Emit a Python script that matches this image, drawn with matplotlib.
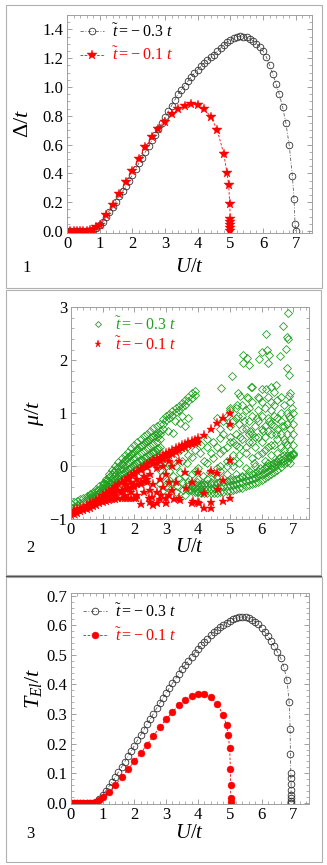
import matplotlib
matplotlib.use("Agg")
import matplotlib.pyplot as plt
from matplotlib.patches import Rectangle
from matplotlib.lines import Line2D
from matplotlib.ticker import MultipleLocator, FormatStrFormatter

plt.rcParams['font.family'] = ['Liberation Serif', 'DejaVu Serif']
plt.rcParams['mathtext.fontset'] = 'custom'
plt.rcParams['mathtext.rm'] = 'Liberation Serif'
plt.rcParams['mathtext.it'] = 'Liberation Serif:italic'
plt.rcParams['mathtext.bf'] = 'Liberation Serif:bold'

# ---------------- panel 1 : gap ----------------
d_black_U = [0.0, 0.1, 0.2, 0.3, 0.4, 0.5, 0.6, 0.7, 0.8, 0.9,
             1.0, 1.1, 1.2, 1.3, 1.4, 1.5, 1.6, 1.7, 1.8, 1.9,
             2.0, 2.1, 2.2, 2.3, 2.4, 2.5, 2.6, 2.7, 2.8, 2.9,
             3.0, 3.1, 3.2, 3.3, 3.4, 3.5, 3.6, 3.7, 3.8, 3.9,
             4.0, 4.1, 4.2, 4.3, 4.4, 4.5, 4.6, 4.7, 4.8, 4.9,
             5.0, 5.1, 5.2, 5.3, 5.4, 5.5, 5.6, 5.7, 5.8, 5.9,
             6.0, 6.1, 6.2, 6.3, 6.4, 6.5, 6.6, 6.7, 6.8, 6.9,
             6.95, 6.98, 7.0]
d_black = [0.0, 0.0, 0.0, 0.0, 0.0, 0.0, 0.001, 0.003, 0.008, 0.02,
           0.04, 0.065, 0.095, 0.13, 0.165, 0.2, 0.24, 0.275, 0.31, 0.35,
           0.39, 0.43, 0.47, 0.51, 0.55, 0.59, 0.63, 0.67, 0.71, 0.75,
           0.79, 0.83, 0.87, 0.91, 0.95, 0.98, 1.01, 1.04, 1.07, 1.095,
           1.12, 1.145, 1.165, 1.185, 1.205, 1.225, 1.25, 1.27, 1.29, 1.31,
           1.325, 1.34, 1.35, 1.352, 1.35, 1.345, 1.335, 1.32, 1.30, 1.28,
           1.25, 1.21, 1.15, 1.09, 1.02, 0.95, 0.86, 0.75, 0.60, 0.38,
           0.22, 0.05, 0.0]

d_red_U = [0.0, 0.1, 0.2, 0.3, 0.4, 0.5, 0.6, 0.7, 0.8, 0.9,
           1.0, 1.2, 1.4, 1.6, 1.8, 2.0, 2.2, 2.4, 2.6, 2.8,
           3.0, 3.2, 3.4, 3.6, 3.8, 4.0, 4.2, 4.4, 4.6, 4.8,
           4.9, 4.95, 4.98, 5.0, 5.0, 5.0, 5.0, 5.0]
d_red = [0.0, 0.0, 0.0, 0.0, 0.0, 0.0, 0.002, 0.005, 0.01, 0.025,
         0.045, 0.11, 0.18, 0.26, 0.34, 0.42, 0.50, 0.58, 0.65, 0.71,
         0.76, 0.81, 0.845, 0.87, 0.885, 0.875, 0.845, 0.795, 0.70, 0.535,
         0.40, 0.32, 0.19, 0.08, 0.06, 0.04, 0.02, 0.0]

# ---------------- panel 2 : chemical potential ----------------
# t~ = -0.3 t  (green diamonds)
g_fan_U = [0.0, 0.1, 0.2, 0.3, 0.4, 0.5, 0.6, 0.7, 0.8, 0.9,
           1.0, 1.1, 1.2, 1.3, 1.4, 1.5, 1.6, 1.7, 1.8, 1.9,
           2.0, 2.1, 2.2, 2.3, 2.4, 2.5, 2.6, 2.7, 2.8]
g_fan_lo = [-0.80, -0.77, -0.74, -0.71, -0.68, -0.65, -0.62, -0.59, -0.56, -0.52,
            -0.49, -0.45, -0.41, -0.37, -0.33, -0.29, -0.25, -0.21, -0.17, -0.13,
            -0.09, -0.06, -0.03, 0.0, 0.04, 0.08, 0.12, 0.16, 0.20]
g_fan_hi = [-0.72, -0.69, -0.66, -0.63, -0.60, -0.57, -0.53, -0.49, -0.44, -0.39,
            -0.32, -0.24, -0.16, -0.08, 0.0, 0.07, 0.14, 0.21, 0.27, 0.33,
            0.39, 0.45, 0.51, 0.56, 0.61, 0.66, 0.71, 0.76, 0.80]
g_in_U = [1.0, 1.1, 1.2, 1.3, 1.4, 1.5, 1.6, 1.7, 1.8, 1.9,
          2.0, 2.1, 2.2, 2.3, 2.4, 2.5, 2.6, 2.7, 2.8]
g_in_1 = [-0.45, -0.40, -0.35, -0.30, -0.25, -0.20, -0.15, -0.11, -0.06, -0.02,
          0.03, 0.07, 0.11, 0.14, 0.18, 0.23, 0.27, 0.31, 0.35]
g_in_2 = [-0.41, -0.35, -0.29, -0.23, -0.17, -0.11, -0.06, 0.0, 0.05, 0.10,
          0.15, 0.20, 0.24, 0.28, 0.33, 0.37, 0.42, 0.46, 0.50]
g_in_3 = [-0.36, -0.29, -0.22, -0.15, -0.08, -0.02, 0.04, 0.11, 0.16, 0.22,
          0.27, 0.32, 0.38, 0.42, 0.47, 0.52, 0.56, 0.61, 0.65]
g_off_U = [0.55, 0.65, 0.75, 0.85, 0.95,
           1.05, 1.15, 1.25, 1.35, 1.45, 1.55, 1.65, 1.75, 1.85, 1.95,
           2.05, 2.15, 2.25, 2.35, 2.45, 2.55, 2.65, 2.75]
g_off_1 = [-0.62, -0.59, -0.56, -0.53, -0.49,
           -0.425, -0.375, -0.325, -0.275, -0.225, -0.18, -0.13, -0.08, -0.04, 0.01,
           0.05, 0.09, 0.12, 0.16, 0.205, 0.25, 0.29, 0.33]
g_off_2 = [-0.58, -0.54, -0.50, -0.46, -0.41,
           -0.33, -0.26, -0.19, -0.12, -0.05, 0.01, 0.07, 0.13, 0.19, 0.24,
           0.30, 0.35, 0.40, 0.445, 0.49, 0.54, 0.59, 0.63]

g_streak_U = [2.9, 3.0, 3.1, 3.2, 3.3, 3.4, 3.5, 3.6, 3.7, 3.8, 3.9]
g_streak_1 = [0.88, 0.94, 0.99, 1.04, 1.09, 1.14, 1.19, 1.25, 1.31, 1.37, 1.42]
g_streak_2 = [0.80, 0.86, 0.91, 0.96, 1.01, 1.06, 1.11, 1.16, 1.22, 1.28, 1.34]

g_band_U = [3.7, 3.8, 3.9, 4.0, 4.1, 4.2, 4.3, 4.4, 4.5, 4.6,
            4.7, 4.8, 4.9, 5.0, 5.1, 5.2, 5.3, 5.4, 5.5, 5.6,
            5.7, 5.8, 5.9, 6.0, 6.1, 6.2, 6.3, 6.4, 6.5, 6.6,
            6.7, 6.8, 6.9, 7.0]
g_band_lo = [-0.45, -0.47, -0.49, -0.50, -0.51, -0.52, -0.52, -0.52, -0.52, -0.51,
             -0.50, -0.49, -0.48, -0.47, -0.46, -0.44, -0.42, -0.41, -0.39, -0.37,
             -0.35, -0.33, -0.30, -0.27, -0.23, -0.19, -0.15, -0.11, -0.07, -0.02,
             0.03, 0.08, 0.14, 0.20]
g_band_mid = [-0.38, -0.40, -0.42, -0.43, -0.43, -0.44, -0.43, -0.43, -0.42, -0.41,
              -0.40, -0.39, -0.38, -0.37, -0.36, -0.34, -0.32, -0.31, -0.29, -0.27,
              -0.25, -0.23, -0.20, -0.17, -0.14, -0.10, -0.06, -0.02, 0.02, 0.06,
              0.10, 0.14, 0.18, 0.23]
g_band_hi = [-0.30, -0.33, -0.35, -0.36, -0.36, -0.36, -0.35, -0.34, -0.33, -0.32,
             -0.31, -0.30, -0.29, -0.28, -0.27, -0.25, -0.23, -0.21, -0.19, -0.17,
             -0.15, -0.13, -0.10, -0.07, -0.04, -0.01, 0.02, 0.05, 0.08, 0.11,
             0.15, 0.18, 0.21, 0.25]

g_cloud_U = [2.7, 2.8, 2.9, 3.07, 3.23, 3.44, 3.28, 3.6, 3.5, 3.7,
             3.07, 3.23, 3.44, 3.65, 3.8, 4.07, 4.28, 4.48, 4.7, 3.12,
             3.33, 3.54, 3.75, 3.96, 3.96, 4.17, 4.38, 4.59, 4.28, 4.48,
             4.7, 4.9, 5.11, 5.32, 3.65, 3.86, 3.44, 3.23, 3.02, 2.81,
             2.91, 4.6, 4.8, 5.0, 5.0, 5.2, 5.2, 5.3, 5.4, 5.4,
             5.5, 5.6, 5.6, 5.7, 5.7, 5.8, 5.9, 5.9, 6.0, 6.0,
             6.1, 6.1, 6.2, 6.2, 6.3, 6.3, 6.4, 6.4, 6.5, 6.5,
             6.6, 6.6, 6.7, 6.7, 6.8, 6.8, 6.9, 6.9, 7.0, 7.0,
             6.95, 4.8, 4.9, 5.0, 5.1, 5.2, 5.3, 5.3, 5.4, 5.5,
             5.5, 5.6, 5.7, 5.7, 5.8, 5.8, 5.9, 6.0, 6.0, 6.1,
             6.1, 6.2, 6.3, 6.3, 6.4, 6.5, 6.5, 6.6, 6.7, 6.7,
             6.8, 6.9, 6.9, 7.0, 4.6, 4.7, 4.9, 5.0, 5.1, 5.2,
             5.4, 5.6, 5.9, 6.2, 4.4, 4.2, 4.0, 3.9, 3.8, 3.5,
             3.3, 3.6, 2.9, 2.8,
             3.1, 3.3, 3.5, 3.7, 3.9, 4.1, 4.3, 3.2, 3.4, 3.6,
             3.8, 4.0, 4.2, 4.4, 4.6, 4.1, 4.3, 4.5, 4.7, 4.9,
             5.1, 5.3, 5.5, 5.7, 5.9, 6.1, 6.3, 6.5, 6.7, 6.9,
             4.8, 5.0, 5.2, 5.4, 5.6, 5.8, 6.0, 6.2, 6.4, 6.6,
             6.8, 7.0, 6.9, 6.5, 6.3, 5.9, 5.5, 5.1, 4.9, 4.7,
             5.25, 5.45, 5.65, 5.85, 6.05, 6.25, 6.45, 6.65, 6.85, 6.75,
             6.55, 6.35, 6.15, 5.95, 5.75]
g_cloud_mu = [0.55, 0.60, 0.70, 0.65, 0.62, 0.81, 0.84, 0.75, 0.95, 0.90,
              -0.30, -0.20, -0.11, 0.05, 0.17, 0.24, 0.36, 0.46, 0.52, -0.46,
              -0.39, -0.46, -0.46, -0.49, -0.30, -0.20, -0.11, -0.05, 0.05, 0.14,
              0.24, 0.36, 0.46, 0.55, 0.36, 0.46, 0.30, 0.14, 0.05, -0.08,
              -0.20, 0.90, 0.85, 0.75, 1.05, 1.10, 0.90, 0.80, 1.15, 0.95,
              0.70, 1.10, 0.85, 1.20, 0.95, 0.75, 1.05, 0.85, 1.20, 0.95,
              1.10, 0.75, 0.90, 1.30, 1.05, 0.80, 1.15, 0.95, 0.70, 1.25,
              1.00, 0.85, 1.15, 0.75, 1.00, 0.60, 0.90, 0.70, 0.60, 0.80,
              1.10, 0.30, 0.10, 0.45, 0.20, 0.60, 0.35, 0.05, 0.50, 0.25,
              -0.05, 0.45, 0.15, 0.60, 0.35, 0.00, 0.55, 0.25, 0.45, 0.10,
              0.55, 0.35, 0.20, 0.60, 0.40, 0.25, 0.50, 0.35, 0.50, 0.30,
              0.40, 0.50, 0.30, 0.40, -0.20, 0.00, -0.15, -0.25, 0.00, -0.15,
              -0.20, -0.10, -0.15, 0.05, -0.30, -0.35, -0.25, -0.10, -0.38, -0.30,
              -0.50, -0.55, -0.45, -0.35,
              -0.10, 0.00, 0.10, 0.20, 0.30, 0.40, 0.50, -0.35, -0.25, -0.20,
              -0.15, -0.05, 0.10, 0.25, 0.35, -0.35, -0.25, -0.15, -0.10, 0.00,
              0.10, 0.20, 0.35, 0.45, 0.20, 0.30, 0.40, 0.10, 0.20, 0.05,
              0.60, 0.55, 0.40, 0.70, 0.60, 0.55, 0.70, 0.65, 0.75, 0.60,
              0.80, 1.00, 1.20, 0.90, 1.20, 1.30, 1.05, 0.85, 0.95, 0.70,
              0.95, 0.85, 0.65, 0.90, 0.65, 0.85, 0.60, 0.75, 0.95, 0.45,
              0.15, 0.05, 0.00, -0.05, 0.05]

g_top_U = [6.84, 6.69, 6.79, 6.82, 6.14, 6.77, 6.0, 6.18, 6.25, 5.43,
           5.54, 5.41, 5.62, 5.93, 6.21, 6.58, 6.79, 6.87, 5.06, 4.72,
           5.66, 6.14, 6.29, 6.46, 6.9, 6.88, 5.32, 5.58, 5.93, 6.4,
           6.6, 5.0, 5.22, 5.53, 5.27, 5.69, 6.0]
g_top_mu = [2.89, 2.65, 2.44, 2.40, 2.50, 2.21, 2.16, 2.19, 2.10, 2.10,
            2.04, 1.94, 1.91, 2.02, 1.95, 2.07, 1.85, 1.72, 1.70, 1.47,
            1.49, 1.45, 1.49, 1.53, 1.38, 1.33, 1.32, 1.28, 1.28, 1.40,
            1.30, 1.09, 1.15, 1.31, 1.37, 1.50, 1.45]

# t~ = -0.1 t  (red stars)
r_lo_U = [0.0, 0.1, 0.2, 0.3, 0.4, 0.5, 0.6, 0.7, 0.8, 0.9,
          1.0, 1.1, 1.2, 1.3, 1.4, 1.5, 1.6, 1.7, 1.8, 1.9, 2.0]
r_lo = [-0.93, -0.91, -0.89, -0.86, -0.84, -0.81, -0.79, -0.76, -0.74, -0.71,
        -0.69, -0.67, -0.65, -0.63, -0.62, -0.61, -0.61, -0.61, -0.61, -0.61, -0.61]
r_mid_U = [0.8, 0.9, 1.0, 1.1, 1.2, 1.3, 1.4, 1.5, 1.6, 1.7,
           1.8, 1.9, 2.0, 2.1, 2.2, 2.3, 2.4]
r_mid = [-0.69, -0.65, -0.62, -0.59, -0.56, -0.53, -0.50, -0.48, -0.46, -0.44,
         -0.42, -0.40, -0.37, -0.34, -0.31, -0.28, -0.25]
r_up_U = [0.0, 0.1, 0.2, 0.3, 0.4, 0.5, 0.6, 0.7, 0.8, 0.9,
          1.0, 1.1, 1.2, 1.3, 1.4, 1.5, 1.6, 1.7, 1.8, 1.9,
          2.0, 2.1, 2.2, 2.3, 2.4, 2.5, 2.6, 2.7, 2.8, 2.9,
          3.0, 3.1, 3.2, 3.3, 3.4, 3.5, 3.6, 3.7, 3.8, 3.9,
          4.0, 4.2, 4.4, 4.6, 4.8, 5.0]
r_up = [-0.86, -0.84, -0.82, -0.79, -0.77, -0.74, -0.71, -0.68, -0.64, -0.60,
        -0.56, -0.52, -0.48, -0.44, -0.39, -0.35, -0.31, -0.26, -0.22, -0.17,
        -0.13, -0.09, -0.05, -0.01, 0.03, 0.08, 0.11, 0.14, 0.17, 0.21,
        0.24, 0.27, 0.30, 0.33, 0.36, 0.39, 0.42, 0.45, 0.47, 0.49,
        0.52, 0.585, 0.69, 0.81, 0.90, 1.0]
r_up2_U = [2.6, 2.7, 2.8, 2.9, 3.0, 3.1, 3.2, 3.3, 3.4, 3.5, 3.6, 3.7, 3.8, 3.9, 4.0]
r_up2 = [0.03, 0.06, 0.10, 0.13, 0.17, 0.20, 0.23, 0.27, 0.30, 0.33, 0.36, 0.39, 0.42, 0.44, 0.45]
r_sc_U = [1.3, 1.4, 1.5, 1.6, 1.6, 1.7, 1.7, 1.8, 1.8, 1.9,
          1.9, 2.0, 2.0, 2.1, 2.1, 2.2, 2.2, 2.2, 2.3, 2.3,
          2.4, 2.4, 2.5, 2.5, 2.5, 2.55, 2.6, 2.6, 2.7, 2.7,
          2.7, 2.8, 2.8, 2.9, 2.9, 3.0, 3.0, 3.0, 3.1, 3.1,
          3.1, 3.2, 3.2, 3.3, 3.4, 3.44, 3.4, 3.6, 3.63, 3.8,
          3.8, 3.85, 4.0, 4.04, 4.0, 4.2, 4.19, 4.4, 4.4, 4.4,
          4.6, 4.64, 4.8, 4.8, 5.0, 5.0, 5.0, 2.05, 2.45, 2.85, 3.25]
r_sc = [-0.50, -0.55, -0.45, -0.50, -0.30, -0.35, -0.55, -0.42, -0.25, -0.50,
        -0.30, -0.40, -0.18, -0.55, -0.25, -0.35, -0.08, -0.72, -0.50, -0.20,
        -0.30, -0.02, -0.45, -0.15, -0.68, -0.58, -0.35, -0.75, -0.50, -0.05,
        -0.71, -0.25, -0.62, -0.40, 0.00, -0.15, -0.61, -0.70, -0.30, 0.10,
        -0.55, 0.00, -0.45, -0.30, 0.10, -0.65, -0.60, -0.11, -0.42, -0.30,
        -0.71, -0.66, -0.11, -0.71, -0.68, -0.51, -0.80, -0.09, -0.68, -0.80,
        -0.14, -0.44, -0.27, -0.66, -0.61, 0.11, 0.79, -0.60, -0.60, -0.55, -0.62]

# ---------------- panel 3 : T_El ----------------
t_black_U = [0.0, 0.1, 0.2, 0.3, 0.4, 0.5, 0.6, 0.7, 0.8, 0.9,
             1.0, 1.1, 1.2, 1.3, 1.4, 1.5, 1.6, 1.7, 1.8, 1.9,
             2.0, 2.1, 2.2, 2.3, 2.4, 2.5, 2.6, 2.7, 2.8, 2.9,
             3.0, 3.1, 3.2, 3.3, 3.4, 3.5, 3.6, 3.7, 3.8, 3.9,
             4.0, 4.1, 4.2, 4.3, 4.4, 4.5, 4.6, 4.7, 4.8, 4.9,
             5.0, 5.1, 5.2, 5.3, 5.4, 5.5, 5.6, 5.7, 5.8, 5.9,
             6.0, 6.1, 6.2, 6.3, 6.4, 6.5, 6.6, 6.7, 6.8, 6.87,
             6.9, 6.91, 6.92, 6.92, 6.93, 6.93, 6.93, 6.93, 6.93, 6.93]
t_black = [0.0, 0.0, 0.0, 0.0, 0.0, 0.0, 0.0, 0.001, 0.004, 0.012,
           0.025, 0.04, 0.055, 0.07, 0.087, 0.104, 0.121, 0.139, 0.157, 0.175,
           0.193, 0.211, 0.229, 0.247, 0.265, 0.283, 0.301, 0.319, 0.337, 0.354,
           0.371, 0.388, 0.404, 0.42, 0.436, 0.451, 0.466, 0.48, 0.494, 0.507,
           0.52, 0.532, 0.544, 0.555, 0.566, 0.576, 0.585, 0.594, 0.602, 0.609,
           0.615, 0.62, 0.624, 0.627, 0.628, 0.627, 0.624, 0.619, 0.612, 0.603,
           0.592, 0.578, 0.563, 0.548, 0.53, 0.51, 0.49, 0.46, 0.415, 0.34,
           0.25, 0.165, 0.10, 0.083, 0.063, 0.043, 0.026, 0.015, 0.007, 0.0]

t_red_U = [0.0, 0.1, 0.2, 0.3, 0.4, 0.5, 0.6, 0.7, 0.8, 0.9,
           1.0, 1.2, 1.4, 1.6, 1.8, 2.0, 2.2, 2.4, 2.6, 2.8,
           3.0, 3.2, 3.4, 3.6, 3.8, 4.0, 4.2, 4.4, 4.6, 4.8,
           4.9, 4.95, 5.0, 5.02, 5.03, 5.03, 5.03]
t_red = [0.0, 0.0, 0.0, 0.0, 0.0, 0.0, 0.0, 0.001, 0.004, 0.01,
         0.02, 0.038, 0.06, 0.086, 0.113, 0.14, 0.168, 0.197, 0.226, 0.255,
         0.282, 0.307, 0.33, 0.348, 0.361, 0.368, 0.367, 0.356, 0.335, 0.296,
         0.262, 0.23, 0.185, 0.115, 0.06, 0.015, 0.004]

lab03 = r'$\tilde{t} = -\ \mathit{0.3}\ t$'
lab01 = r'$\tilde{t} = -\ \mathit{0.1}\ t$'

GREEN = '#22a022'
RED = '#ff0000'
FRAME = '#a0a0a0'
TICK_FS = 12
LEG_FS = 11.5

W, H = 327, 865
fig = plt.figure(figsize=(3.27, 8.65), dpi=100)


def px_axes(x0, y0, x1, y1):
    # pixel box (top-left origin) -> figure axes
    return fig.add_axes([x0 / W, 1 - y1 / H, (x1 - x0) / W, (y1 - y0) / H])


def style(ax, ymaj, ymin):
    ax.xaxis.set_major_locator(MultipleLocator(1))
    ax.xaxis.set_minor_locator(MultipleLocator(0.2))
    ax.yaxis.set_major_locator(MultipleLocator(ymaj))
    ax.yaxis.set_minor_locator(MultipleLocator(ymin))
    ax.tick_params(which='both', direction='in', top=True, right=True,
                   color='#909090', labelsize=TICK_FS, pad=2.5)
    ax.tick_params(which='major', length=3.5, width=0.6)
    ax.tick_params(which='minor', length=2, width=0.5)
    for s in ax.spines.values():
        s.set_color(FRAME)
        s.set_linewidth(0.7)


def panel_box(y0, y1, x1=322):
    fig.patches.append(Rectangle((6 / W, 1 - y1 / H), (x1 - 6) / W, (y1 - y0) / H,
                                 transform=fig.transFigure, fill=False,
                                 edgecolor='#b0b0b0', linewidth=0.8))


def color_legend(leg, cols):
    for txt, c in zip(leg.get_texts(), cols):
        txt.set_color(c)


panel_box(5, 288)
panel_box(290, 575, 321)
panel_box(577, 862)
fig.lines.append(Line2D([6 / W, 321 / W], [1 - 575.5 / H, 1 - 575.5 / H],
                        transform=fig.transFigure, color='#505050', lw=0.9))

# ---- panel 1
ax1 = px_axes(67, 15, 312, 233)
ax1.plot(d_black_U, d_black, ls=(0, (4, 2, 1, 2)), lw=0.6, color='#606060',
         marker='o', ms=4.8, mfc='none', mec='#303030', mew=0.6, label=lab03)
ax1.plot(d_red_U, d_red, ls=(0, (3, 2)), lw=0.6, color=RED,
         marker='*', ms=7, mfc=RED, mec=RED, mew=0.3, label=lab01)
ax1.set_xlim(0, 7.5)
ax1.set_ylim(-0.014, 1.5)
style(ax1, 0.2, 0.05)
ax1.yaxis.set_major_formatter(FormatStrFormatter('%.1f'))
leg1 = ax1.legend(loc='upper left', bbox_to_anchor=(0.055, 0.965), frameon=False,
                  fontsize=LEG_FS, handlelength=1.5, handletextpad=0.45,
                  labelspacing=0.35, borderaxespad=0, borderpad=0)
color_legend(leg1, ['black', RED])
fig.text(24 / W, 1 - 123 / H, r'$\Delta/t$', rotation=90, ha='center', va='center', fontsize=16)
fig.text(190 / W, 1 - 267 / H, r'$U/t$', ha='center', va='center', fontsize=15)
fig.text(27 / W, 1 - 268 / H, '1', ha='center', va='center', fontsize=TICK_FS)

# ---- panel 2
ax2 = px_axes(70.7, 307.3, 309.2, 518.7)
ax2.axhline(0, color='#e4e4e4', lw=0.6, zorder=0)
g_U = (g_fan_U + g_fan_U + g_in_U + g_in_U + g_in_U + g_off_U + g_off_U
       + g_streak_U + g_streak_U
       + g_band_U + g_band_U + g_band_U + g_cloud_U + g_top_U)
g_mu = (g_fan_lo + g_fan_hi + g_in_1 + g_in_2 + g_in_3 + g_off_1 + g_off_2
        + g_streak_1 + g_streak_2
        + g_band_lo + g_band_mid + g_band_hi + g_cloud_mu + g_top_mu)
r_U = r_lo_U + r_mid_U + r_up_U + r_up2_U + r_sc_U
r_mu = r_lo + r_mid + r_up + r_up2 + r_sc
ax2.plot(g_U, g_mu, ls='none', marker='D', ms=3.8, mfc='none', mec=GREEN, mew=0.6, label=lab03)
ax2.plot(r_U, r_mu, ls='none', marker='*', ms=6.5, mfc=RED, mec=RED, mew=0.3, label=lab01)
ax2.set_xlim(0, 7.5)
ax2.set_ylim(-1, 3)
style(ax2, 1, 0.2)
leg2 = ax2.legend(loc='upper left', bbox_to_anchor=(0.085, 0.96), frameon=False,
                  fontsize=LEG_FS, handlelength=0.9, handletextpad=0.6,
                  labelspacing=0.15, borderaxespad=0, borderpad=0, markerscale=0.8)
color_legend(leg2, [GREEN, RED])
fig.text(35 / W, 1 - 413 / H, r'$\mu/t$', rotation=90, ha='center', va='center', fontsize=16)
fig.text(190 / W, 1 - 547 / H, r'$U/t$', ha='center', va='center', fontsize=15)
fig.text(30 / W, 1 - 548 / H, '2', ha='center', va='center', fontsize=TICK_FS)

# ---- panel 3
ax3 = px_axes(70.7, 593.3, 309.2, 803.7)
ax3.plot(t_black_U, t_black, ls=(0, (4, 2, 1, 2)), lw=0.6, color='#606060',
         marker='o', ms=4.8, mfc='none', mec='#303030', mew=0.6, label=lab03)
ax3.plot(t_red_U, t_red, ls=(0, (3, 2)), lw=0.6, color=RED,
         marker='o', ms=5, mfc=RED, mec=RED, mew=0.3, label=lab01)
ax3.set_xlim(0, 7.5)
ax3.set_ylim(-0.003, 0.708)
style(ax3, 0.1, 0.02)
ax3.yaxis.set_major_formatter(FormatStrFormatter('%.1f'))
leg3 = ax3.legend(loc='upper left', bbox_to_anchor=(0.05, 0.955), frameon=False,
                  fontsize=LEG_FS, handlelength=1.5, handletextpad=0.55,
                  labelspacing=0.4, borderaxespad=0, borderpad=0)
color_legend(leg3, ['black', RED])
fig.text(33 / W, 1 - 688 / H, r'$T_{El}/t$', rotation=90, ha='center', va='center', fontsize=16)
fig.text(190 / W, 1 - 833 / H, r'$U/t$', ha='center', va='center', fontsize=15)
fig.text(30 / W, 1 - 834 / H, '3', ha='center', va='center', fontsize=TICK_FS)

fig.savefig('out.png', dpi=100)
